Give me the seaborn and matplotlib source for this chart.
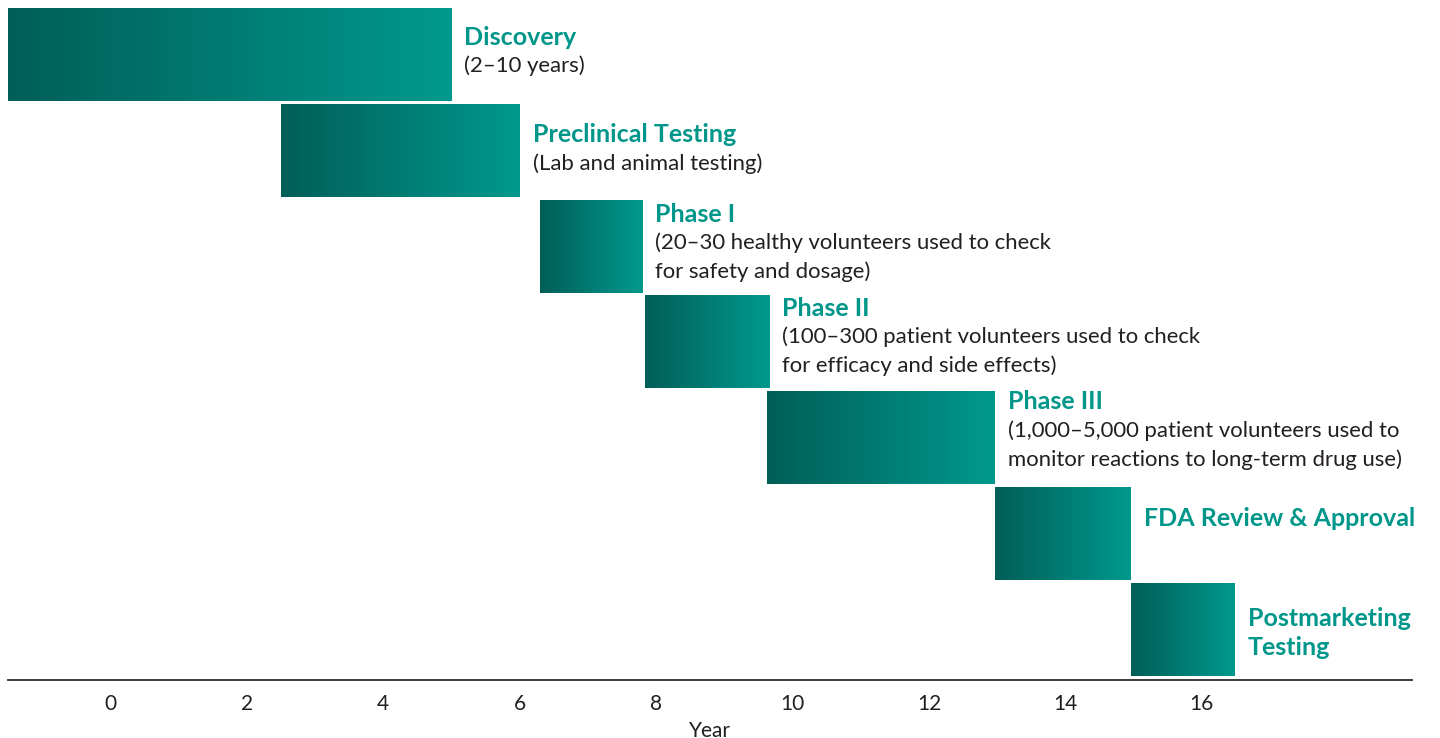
import numpy as np
import pandas as pd
import matplotlib
matplotlib.use("Agg")
import matplotlib.pyplot as plt
from matplotlib.colors import LinearSegmentedColormap
import seaborn as sns

# ---- data ----
phases = ["Discovery", "Preclinical Testing", "Phase I", "Phase II",
          "Phase III", "FDA Review & Approval", "Postmarketing\nTesting"]
starts = [-1.5, 2.5, 6.3, 7.83, 9.63, 12.97, 14.96]
ends = [5.0, 6.0, 7.8, 9.65, 12.97, 14.96, 16.48]
descriptions = ["(2–10 years)",
                "(Lab and animal testing)",
                "(20–30 healthy volunteers used to check\nfor safety and dosage)",
                "(100–300 patient volunteers used to check\nfor efficacy and side effects)",
                "(1,000–5,000 patient volunteers used to\nmonitor reactions to long-term drug use)",
                "",
                ""]
tick_values = [0, 2, 4, 6, 8, 10, 12, 14, 16]
x_label = "Year"

df = pd.DataFrame({"phase": phases, "start": starts, "end": ends})
df["duration"] = df["end"] - df["start"]

# ---- style ----
sns.set_theme(style="white")
plt.rcParams["font.family"] = ["Lato", "DejaVu Sans"]

DARK = "#005E58"
LIGHT = "#00998D"
TEAL_TEXT = "#00968A"
TEXT = "#231F20"
cmap = LinearSegmentedColormap.from_list("teal", [DARK, LIGHT])

# vertical nudges of label blocks (pixels, + = down)
label_nudge_px = [-3, -1, -3, -5, -7, -14.5, 4]

fig = plt.figure(figsize=(14.4, 7.38), dpi=100)
ax = fig.add_axes([8 / 1440, 1 - 680 / 738, (1412 - 8) / 1440, (680 - 6.6) / 738])

sns.barplot(data=df, y="phase", x="duration", orient="h", ax=ax,
            width=0.97, color=LIGHT, order=phases, saturation=1)

ax.set_xlim(-1.5, 19.08)
ax.set_ylim(6.53, -0.5)
row_px = (680 - 6.6) / 7.03

grad = np.linspace(0, 1, 256).reshape(1, -1)
for i, patch in enumerate(ax.patches[:len(phases)]):
    patch.set_x(df["start"].iloc[i])
    patch.set_width(df["duration"].iloc[i])
    patch.set_edgecolor("none")
    x0 = patch.get_x()
    x1 = x0 + patch.get_width()
    y0 = patch.get_y()
    y1 = y0 + patch.get_height()
    patch.set_facecolor("none")
    im = ax.imshow(grad, cmap=cmap, aspect="auto", extent=[x0, x1, y1, y0],
                   interpolation="bicubic", zorder=2)
    im.set_clip_path(patch)

    # labels
    title_lines = phases[i].split("\n")
    desc_lines = descriptions[i].split("\n") if descriptions[i] else []
    lines = [(t, True) for t in title_lines] + [(d, False) for d in desc_lines]
    n = len(lines)
    spacing = 28.7 / row_px
    center = i + label_nudge_px[i] / row_px
    tx = x1 + 0.19
    for k, (txt, bold) in enumerate(lines):
        ty = center + (k - (n - 1) / 2) * spacing
        if bold:
            ax.text(tx, ty, txt, ha="left", va="center", fontsize=18,
                    fontweight="bold", color=TEAL_TEXT, zorder=3)
        else:
            ax.text(tx, ty, txt, ha="left", va="center", fontsize=15.9,
                    fontweight="normal", color=TEXT, zorder=3)

ax.set_ylabel("")
ax.set_yticks([])
ax.set_xticks(tick_values)
ax.set_xticklabels([str(v) for v in tick_values], fontsize=15, color=TEXT)
ax.tick_params(axis="x", length=0, pad=10)
ax.set_xlabel(x_label, fontsize=15, color=TEXT, labelpad=5)

for s in ["top", "right", "left"]:
    ax.spines[s].set_visible(False)
ax.spines["bottom"].set_color("#2b2b2b")
ax.spines["bottom"].set_linewidth(1.3)

fig.savefig("out.png", dpi=100)
